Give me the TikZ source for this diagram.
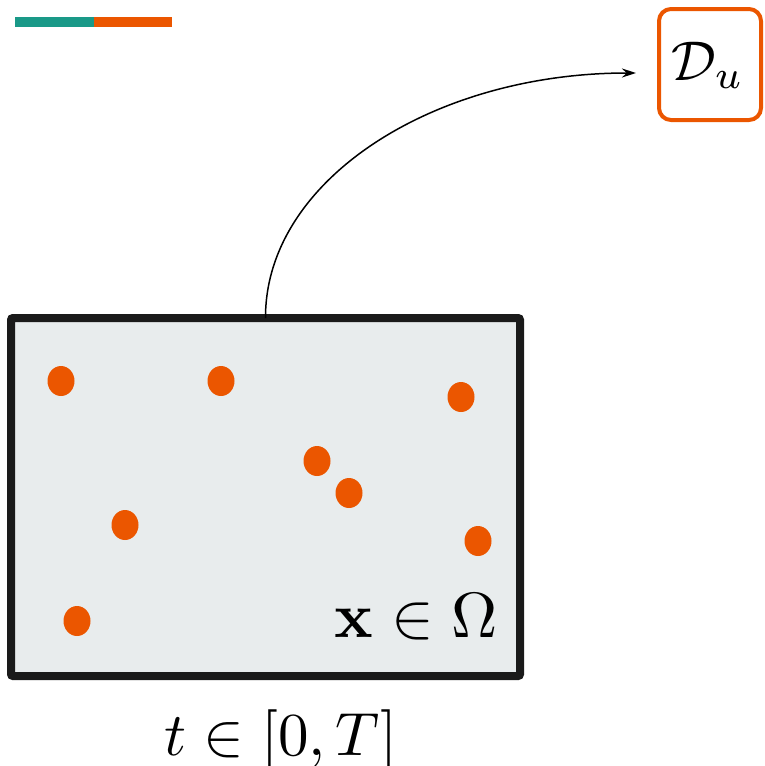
\documentclass[tikz,border=0pt]{standalone}
\usepackage{graphicx}
\usepackage{amsmath}
\usetikzlibrary{arrows.meta}
\definecolor{teal1}{HTML}{1A9988}
\definecolor{orng}{HTML}{EB5600}
\definecolor{boxfill}{HTML}{E8ECED}
\definecolor{boxline}{HTML}{1A1A1A}
\tikzset{
  dotmark/.style={fill=orng, draw=none},
  bigtext/.style={inner sep=0pt, outer sep=0pt},
}
\begin{document}
\begin{tikzpicture}[x=1pt,y=-1pt]
\useasboundingbox (0,0) rectangle (765,766);
% top bar
\fill[teal1] (15,17) rectangle (94,27);
\fill[orng] (94,17) rectangle (172,27);
% main box
\node[draw=boxline, line width=8pt, fill=boxfill, rounded corners=2pt, minimum width=509pt, minimum height=358pt, inner sep=0pt, outer sep=0pt, anchor=north west] (dom) at (11,318) {};
% dots
\foreach \i/\px/\py in {1/61/381, 2/221/381, 3/461/397, 4/317/461, 5/349/493, 6/125/525, 7/478/541, 8/77/621}{
  \path[dotmark] (\px,\py) ellipse [x radius=13.5pt, y radius=15pt];
}
% labels
\node[bigtext, anchor=base east] (xom) at (498,637) {\scalebox{6.4}{$\mathbf{x}\in\Omega$}};
\node[bigtext, anchor=base] (tl) at (281,755) {\scalebox{6.1}{$t\in[0,T]$}};
% D_u box
\node[draw=orng, line width=4pt, rounded corners=12pt, minimum width=102pt, minimum height=111pt, inner sep=0pt, outer sep=0pt, anchor=north west] (Du) at (659,9) {};
\node[bigtext] (Dutext) at ([xshift=-2pt,yshift=-1pt]Du.center) {\scalebox{5.6}{$\mathcal{D}_u$}};
\coordinate (tipend) at (636,73);
\draw[-{Stealth[length=14pt,width=9pt]}, line width=1.5pt] (dom.north) .. controls (265,181) and (432,73) .. (tipend);
\end{tikzpicture}
\end{document}
